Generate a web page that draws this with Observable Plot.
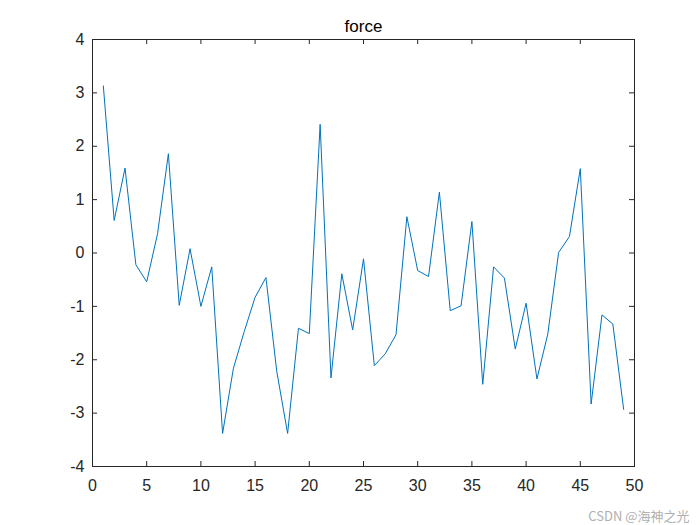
<!DOCTYPE html>
<html>
<head>
<meta charset="utf-8">
<script src="https://cdn.jsdelivr.net/npm/d3@7"></script>
<script src="https://cdn.jsdelivr.net/npm/@observablehq/plot@0.6"></script>
<style>
  html, body { margin: 0; padding: 0; background: #fff; }
</style>
</head>
<body>
<div id="chart"></div>
<script>
const title = "force";
const watermark = "CSDN @海神之光";
const xValues = d3.range(1, 50);
const forceValues = [
  3.13, 0.61, 1.59, -0.22, -0.54, 0.36, 1.86, -0.98, 0.08, -1.00,
  -0.26, -3.38, -2.16, -1.47, -0.83, -0.46, -2.22, -3.38, -1.41, -1.51,
  2.41, -2.34, -0.39, -1.44, -0.11, -2.11, -1.89, -1.53, 0.68, -0.33,
  -0.44, 1.14, -1.08, -0.99, 0.59, -2.46, -0.26, -0.47, -1.80, -0.94,
  -2.36, -1.52, 0.01, 0.31, 1.58, -2.83, -1.16, -1.33, -2.93
];
const xTicks = [0, 5, 10, 15, 20, 25, 30, 35, 40, 45, 50];
const yTicks = [-4, -3, -2, -1, 0, 1, 2, 3, 4];

const data = xValues.map((x, i) => ({x, y: forceValues[i]}));

const W = 700, H = 525;
const mL = 92, mR = 66, mT = 39, mB = 59;
const plotW = W - mL - mR, plotH = H - mT - mB;
const tickLen = 5;
const font = "'Liberation Sans', Arial, sans-serif";

const chart = Plot.plot({
  width: W,
  height: H,
  marginLeft: mL,
  marginRight: mR,
  marginTop: mT,
  marginBottom: mB,
  style: {fontFamily: font, fontSize: "16px", color: "#262626", background: "#fff"},
  x: {domain: [0, 50], ticks: xTicks},
  y: {domain: [-4, 4], ticks: yTicks},
  marks: [
    Plot.axisX(xTicks, {tickSize: 0, tickPadding: 13, label: null, fontSize: 16, fill: "#262626"}),
    Plot.axisY(yTicks, {tickSize: 0, tickPadding: 8, label: null, fontSize: 16, fill: "#262626", tickFormat: d => d < 0 ? "-" + Math.abs(d) : String(d)}),
    Plot.tickX(xTicks, {x: d => d, insetTop: plotH - tickLen, stroke: "#262626", strokeWidth: 1}),
    Plot.tickX(xTicks, {x: d => d, insetBottom: plotH - tickLen, stroke: "#262626", strokeWidth: 1}),
    Plot.tickY(yTicks, {y: d => d, insetRight: plotW - tickLen, stroke: "#262626", strokeWidth: 1}),
    Plot.tickY(yTicks, {y: d => d, insetLeft: plotW - tickLen, stroke: "#262626", strokeWidth: 1}),
    Plot.line(data, {x: "x", y: "y", stroke: "#0072BD", strokeWidth: 1}),
    Plot.frame({stroke: "#262626", strokeWidth: 1}),
    Plot.text([title], {frameAnchor: "top", dy: -8, lineAnchor: "bottom", fontSize: 17, fill: "#000"}),
    Plot.text([watermark], {frameAnchor: "bottom-right", dx: mR - 11, dy: mB - 5, lineAnchor: "bottom", textAnchor: "end", fontSize: 13, fill: "#b0b0b0", fontFamily: "'Noto Sans CJK SC', sans-serif"})
  ]
});
document.getElementById("chart").appendChild(chart);
</script>
</body>
</html>
